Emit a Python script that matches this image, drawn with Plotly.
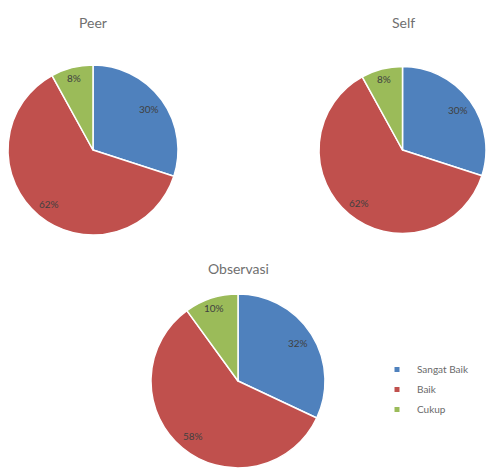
import math
import plotly.graph_objects as go

categories = ["Sangat Baik", "Baik", "Cukup"]
peer_values = [30, 62, 8]
self_values = [30, 62, 8]
obs_values = [32, 58, 10]
chart_titles = ["Peer", "Self", "Observasi"]
colors = ["#4F81BD", "#C0504D", "#9BBB59"]

W, H = 486, 468

def px_dom(x0, x1, y0, y1):
    return dict(x=[x0 / W, x1 / W], y=[1 - y1 / H, 1 - y0 / H])

domains = [px_dom(8, 178, 65, 235), px_dom(319, 486, 66, 234), px_dom(151, 325, 294, 468)]
series = [peer_values, self_values, obs_values]

fig = go.Figure()
for vals, dom in zip(series, domains):
    fig.add_trace(go.Pie(
        labels=categories, values=vals, domain=dom, sort=False,
        direction="clockwise", rotation=0,
        marker=dict(colors=colors, line=dict(color="white", width=1.5)),
        textinfo="none",
        showlegend=False, hoverinfo="label+percent",
    ))
    # data labels placed along each slice's bisector (Excel "best fit" style)
    cx = (dom["x"][0] + dom["x"][1]) / 2 * W
    cy = (1 - (dom["y"][0] + dom["y"][1]) / 2) * H
    r = min((dom["x"][1] - dom["x"][0]) * W, (dom["y"][1] - dom["y"][0]) * H) / 2
    total = sum(vals)
    cum = 0
    for v in vals:
        frac = v / total
        mid = (cum + frac / 2) * 2 * math.pi
        cum += frac
        k = 0.88 if frac < 0.15 else 0.82
        lx = cx + k * r * math.sin(mid)
        ly = cy - k * r * math.cos(mid)
        fig.add_annotation(text=f"{round(frac * 100)}%", x=lx / W, y=1 - ly / H,
                           xref="paper", yref="paper", showarrow=False,
                           xanchor="center", yanchor="middle",
                           font=dict(family="Lato", size=10, color="#404040"))

# legend entries
for cat, col in zip(categories, colors):
    fig.add_trace(go.Scatter(
        x=[None], y=[None], mode="markers", name=cat, legendgroup=cat,
        marker=dict(symbol="square", size=5, color=col), showlegend=True,
    ))

title_pos = [(93, 22), (403, 22), (238, 268)]
for t, (x, y) in zip(chart_titles, title_pos):
    fig.add_annotation(text=t, x=x / W, y=1 - y / H, xref="paper", yref="paper",
                       showarrow=False, xanchor="center", yanchor="middle",
                       font=dict(family="Lato", size=14, color="#707070"))

fig.update_layout(
    width=W, height=H, margin=dict(l=0, r=0, t=0, b=0),
    paper_bgcolor="white", plot_bgcolor="white",
    xaxis=dict(visible=False), yaxis=dict(visible=False),
    legend=dict(x=377 / W, y=1 - 355 / H, xanchor="left", yanchor="top",
                font=dict(family="Lato", size=10, color="#6a6a6a"),
                traceorder="grouped", tracegroupgap=1, bgcolor="rgba(0,0,0,0)"),
    font=dict(family="Lato"),
)

fig.write_html("out.html")
